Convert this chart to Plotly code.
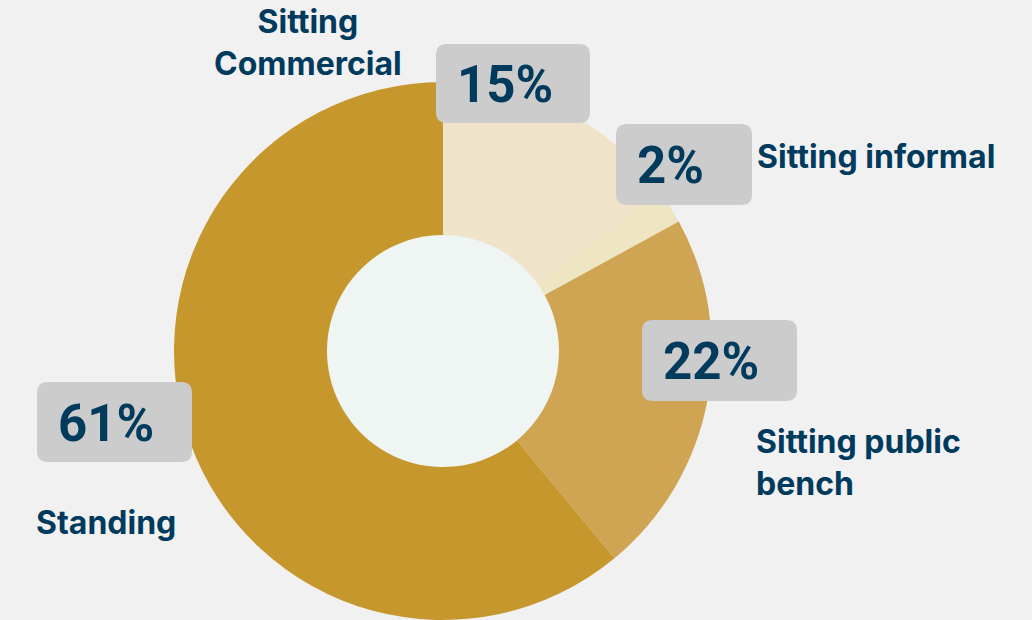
import plotly.graph_objects as go

# ---- data ----
categories = ["Sitting Commercial", "Sitting informal", "Sitting public bench", "Standing"]
shares = [15, 2, 22, 61]
display_labels = ["Sitting<br>Commercial", "Sitting informal", "Sitting public<br>bench", "Standing"]

# ---- styling ----
slice_colors = ["#EFE4CA", "#EEE6C3", "#CFA553", "#C6972D"]
BG = "#F1F1F1"
HOLE = "#EEF5F3"
NAVY = "#003A5C"
BOX = "#CCCCCC"

W, H = 1032, 620
cx, cy, R = 443, 351, 269
hole_frac = 116 / R

fig = go.Figure()
fig.add_trace(go.Pie(
    labels=categories, values=shares, sort=False, direction="clockwise", rotation=0,
    hole=hole_frac, textinfo="none", showlegend=False,
    marker=dict(colors=slice_colors, line=dict(width=0)),
    domain=dict(x=[(cx - R) / W, (cx + R) / W], y=[(H - (cy + R)) / H, (H - (cy - R)) / H]),
    hovertemplate="%{label}: %{value}%<extra></extra>",
))


def rrect(x0, y0, x1, y1, r=11):
    return (f"M{x0+r},{y0} L{x1-r},{y0} Q{x1},{y0} {x1},{y0+r} L{x1},{y1-r} Q{x1},{y1} {x1-r},{y1} "
            f"L{x0+r},{y1} Q{x0},{y1} {x0},{y1-r} L{x0},{y0+r} Q{x0},{y0} {x0+r},{y0} Z")


shapes = [dict(type="circle", xref="x", yref="y", x0=cx - 118, x1=cx + 118, y0=cy - 118, y1=cy + 118,
               fillcolor=HOLE, line=dict(width=0), layer="below")]

# value boxes (pixel layout positions) in category order
boxes = [(436, 44, 590, 123), (616, 124, 752, 205), (642, 320, 797, 401), (37, 382, 192, 462)]
annotations = []
for (x0, y0, x1, y1), v in zip(boxes, shares):
    shapes.append(dict(type="path", xref="x", yref="y", path=rrect(x0, y0, x1, y1),
                       fillcolor=BOX, line=dict(width=0), layer="above"))
    annotations.append(dict(x=x0 + 19, y=(y0 + y1) / 2 + 1, xref="x", yref="y", text=f"{v}%",
                            showarrow=False, xanchor="left", yanchor="middle",
                            font=dict(family="Roboto", size=51, color=NAVY, weight="bold")))

label_pos = [(308, 42, "center"), (755, 156, "left"), (754, 462, "left"), (34, 522, "left")]
for (x, y, anc), t in zip(label_pos, display_labels):
    annotations.append(dict(x=x, y=y, xref="x", yref="y", text=t, showarrow=False,
                            xanchor=anc, yanchor="middle", align=anc,
                            font=dict(family="Inter", size=32, color=NAVY, weight="bold")))

fig.update_layout(
    width=W, height=H, margin=dict(l=0, r=0, t=0, b=0),
    paper_bgcolor=BG, plot_bgcolor="rgba(0,0,0,0)",
    xaxis=dict(range=[0, W], visible=False, fixedrange=True),
    yaxis=dict(range=[H, 0], visible=False, fixedrange=True),
    shapes=shapes, annotations=annotations,
)

fig.write_html("out.html")
